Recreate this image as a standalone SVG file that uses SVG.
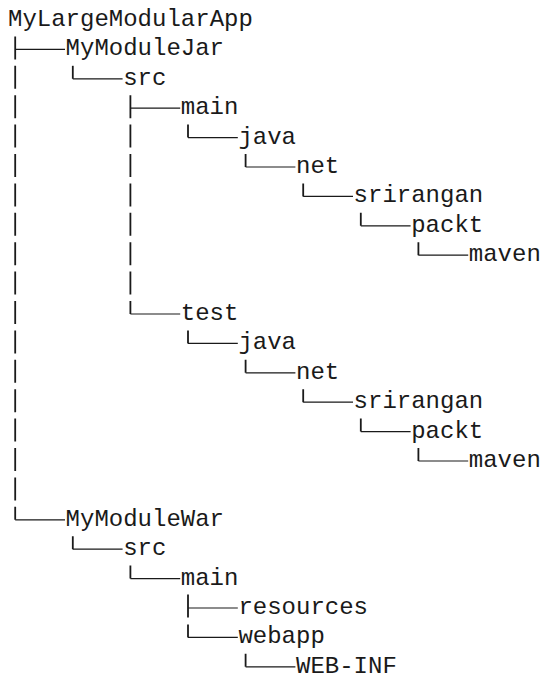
<svg xmlns="http://www.w3.org/2000/svg" width="545" height="682" viewBox="0 0 545 682">
<style>
text{font-family:"Liberation Mono","Courier New",monospace;font-size:24px;fill:#1a1a1a}
.v{stroke:#1a1a1a;stroke-width:1.8;fill:none}
.h{stroke:#1a1a1a;stroke-width:1.2;fill:none}
</style>
<rect width="545" height="682" fill="#fff"/>
<g id="connectors">
<path class="v" d="M15.2 36.4V59.4 M15.2 65.8V88.8 M15.2 95.2V118.2 M15.2 124.6V147.6 M15.2 154V177 M15.2 183.4V206.4 M15.2 212.8V235.8 M15.2 242.2V265.2 M15.2 271.6V294.6 M15.2 301V324 M15.2 330.4V353.4 M15.2 359.8V382.8 M15.2 389.2V412.2 M15.2 418.6V441.6 M15.2 448V471 M15.2 477.4V500.4 M15.2 506.8V519.8"/>
<path class="v" d="M72.8 65.8V78.8"/>
<path class="v" d="M130.4 95.2V118.2 M130.4 124.6V147.6 M130.4 154V177 M130.4 183.4V206.4 M130.4 212.8V235.8 M130.4 242.2V265.2 M130.4 271.6V294.6 M130.4 301V314"/>
<path class="v" d="M188 124.6V137.6 M188 330.4V343.4 M188 594.6V617.4 M188 624.4V637.4"/>
<path class="v" d="M245.6 154V167 M245.6 359.8V372.8 M245.6 653.8V666.8"/>
<path class="v" d="M303.2 183.4V196.4 M303.2 389.2V402.2"/>
<path class="v" d="M360.8 212.8V225.8 M360.8 418.6V431.6"/>
<path class="v" d="M418.4 242.2V255.2 M418.4 448V461"/>
<path class="v" d="M72.8 536.2V549.2 M130.4 565.6V578.6"/>
<path class="h" d="M15.2 49.4H65 M72.8 78.8H122.6 M130.4 108.2H180.2 M188 137.6H237.8 M245.6 167H295.4 M303.2 196.4H353 M360.8 225.8H410.6 M418.4 255.2H468.2 M130.4 314H180.2 M188 343.4H237.8 M245.6 372.8H295.4 M303.2 402.2H353 M360.8 431.6H410.6 M418.4 461H468.2 M15.2 519.8H65 M72.8 549.2H122.6 M130.4 578.6H180.2 M188 608H237.8 M188 637.4H237.8 M245.6 666.8H295.4"/>
</g>
<g id="n-root"><text x="8" y="26">MyLargeModularApp</text></g>
<g id="n-jar"><text x="65.6" y="55.4">MyModuleJar</text></g>
<g id="n-jar-src"><text x="123.2" y="84.8">src</text></g>
<g id="n-jar-main"><text x="180.8" y="114.2">main</text></g>
<g id="n-jar-main-java"><text x="238.4" y="143.6">java</text></g>
<g id="n-jar-main-net"><text x="296" y="173">net</text></g>
<g id="n-jar-main-srirangan"><text x="353.6" y="202.4">srirangan</text></g>
<g id="n-jar-main-packt"><text x="411.2" y="231.8">packt</text></g>
<g id="n-jar-main-maven"><text x="468.8" y="261.2">maven</text></g>
<g id="n-jar-test"><text x="180.8" y="320">test</text></g>
<g id="n-jar-test-java"><text x="238.4" y="349.4">java</text></g>
<g id="n-jar-test-net"><text x="296" y="378.8">net</text></g>
<g id="n-jar-test-srirangan"><text x="353.6" y="408.2">srirangan</text></g>
<g id="n-jar-test-packt"><text x="411.2" y="437.6">packt</text></g>
<g id="n-jar-test-maven"><text x="468.8" y="467">maven</text></g>
<g id="n-war"><text x="65.6" y="525.8">MyModuleWar</text></g>
<g id="n-war-src"><text x="123.2" y="555.2">src</text></g>
<g id="n-war-main"><text x="180.8" y="584.6">main</text></g>
<g id="n-war-resources"><text x="238.4" y="614">resources</text></g>
<g id="n-war-webapp"><text x="238.4" y="643.4">webapp</text></g>
<g id="n-war-webinf"><text x="296" y="672.8">WEB-INF</text></g>
</svg>
